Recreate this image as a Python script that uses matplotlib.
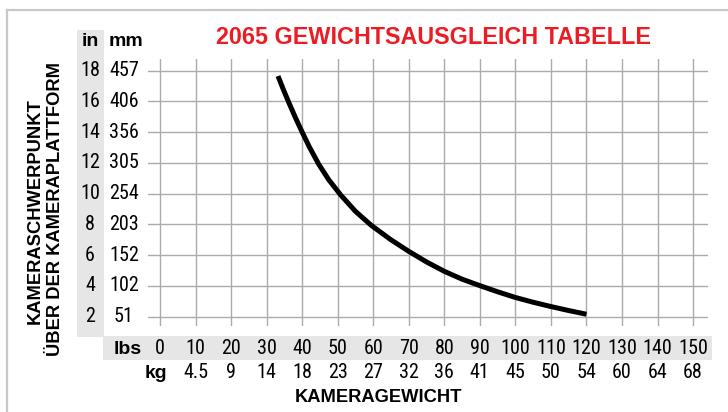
import matplotlib
matplotlib.use('Agg')
from matplotlib import pyplot as plt
from matplotlib.transforms import blended_transform_factory
from matplotlib.patches import Rectangle
from matplotlib.lines import Line2D

# curve: camera weight (lbs) vs. centre of gravity (in)
weight_lbs = [33.2, 34.7, 36.2, 38.0, 39.8, 42.0, 44.7, 47.5, 50.9, 55.0, 59.5, 65.0, 70.0, 75.0,
              80.0, 85.0, 90.0, 95.0, 100.0, 105.0, 110.0, 115.0, 120.0]
cog_in     = [17.65, 16.78, 15.95, 15.0, 14.1, 13.05, 11.9, 10.9, 9.9, 8.85, 7.93, 7.0, 6.25, 5.56,
              4.95, 4.44, 4.02, 3.62, 3.25, 2.94, 2.66, 2.4, 2.16]

# axis tick labels
lbs_ticks = [0, 10, 20, 30, 40, 50, 60, 70, 80, 90, 100, 110, 120, 130, 140, 150]
kg_labels = ['', '4.5', '9', '14', '18', '23', '27', '32', '36', '41', '45', '50', '54', '60', '64', '68']
in_ticks  = [2, 4, 6, 8, 10, 12, 14, 16, 18]
mm_labels = ['51', '102', '152', '203', '254', '305', '356', '406', '457']

W, H = 728, 412
NARROW = ['Roboto Condensed', 'Archivo Narrow', 'DejaVu Sans']
BOLD = ['Liberation Sans', 'DejaVu Sans']
BAND = '#e6e6e6'
GRID = '#ababab'
RED = '#ec1c24'

fig = plt.figure(figsize=(W / 100, H / 100), dpi=100)


def fx(x):
    return x / W


def fy(y):
    return 1 - y / H


# outer frame (left + top edges only visible)
fig.add_artist(Line2D([fx(7), fx(7)], [fy(10), 0], color='#c8c8c8', lw=1.6))
fig.add_artist(Line2D([fx(7), 1], [fy(10), fy(10)], color='#c8c8c8', lw=1.6))

# gray label bands (L shape)
fig.add_artist(Rectangle((fx(77), fy(336.5)), fx(104) - fx(77), fy(30) - fy(336.5),
                         facecolor=BAND, edgecolor='none', zorder=0))
fig.add_artist(Rectangle((fx(103), fy(360)), fx(712) - fx(103), fy(336) - fy(360),
                         facecolor=BAND, edgecolor='none', zorder=0))

ax = fig.add_axes([fx(148), fy(326), fx(708) - fx(148), fy(59.3) - fy(326)])
ax.set_facecolor('none')
ax.set_xlim(-3.38, 154.2)
ax.set_ylim(1.395, 18.74)
ax.set_xticks(lbs_ticks)
ax.set_yticks(in_ticks)
ax.grid(color=GRID, lw=1.0)
ax.tick_params(length=0, labelbottom=False, labelleft=False)
for s in ax.spines.values():
    s.set_visible(False)

ax.plot(weight_lbs, cog_in, color='black', lw=3.6, solid_capstyle='butt',
        solid_joinstyle='round', zorder=3)

# x tick label rows
tx = blended_transform_factory(ax.transData, fig.transFigure)
for v, kg in zip(lbs_ticks, kg_labels):
    fig.text(v, fy(349), str(v), transform=tx, ha='center', va='center',
             fontsize=14.5, family=NARROW)
    if kg:
        fig.text(v, fy(373), kg, transform=tx, ha='center', va='center',
                 fontsize=14.5, family=NARROW)
fig.text(fx(142), fy(349), 'lbs', ha='right', va='center', fontsize=14,
         fontweight='bold', family=BOLD)
fig.text(fx(167), fy(373), 'kg', ha='right', va='center', fontsize=14,
         fontweight='bold', family=BOLD)

# y tick label columns
ty = blended_transform_factory(fig.transFigure, ax.transData)
for v, mm in zip(in_ticks, mm_labels):
    fig.text(fx(90), v, str(v), transform=ty, ha='center', va='center',
             fontsize=14.5, family=NARROW)
    fig.text(fx(124), v, mm, transform=ty, ha='center', va='center',
             fontsize=14.5, family=NARROW)
fig.text(fx(90), fy(42), 'in', ha='center', va='center', fontsize=14,
         fontweight='bold', family=BOLD)
fig.text(fx(126), fy(42), 'mm', ha='center', va='center', fontsize=14,
         fontweight='bold', family=BOLD)

# titles
fig.text(fx(433.5), fy(37), '2065 GEWICHTSAUSGLEICH TABELLE', ha='center', va='center',
         fontsize=16.8, fontweight='bold', color=RED, family=BOLD)
fig.text(fx(378), fy(397), 'KAMERAGEWICHT', ha='center', va='center',
         fontsize=13.2, fontweight='bold', family=BOLD)
fig.text(fx(35), fy(211), 'KAMERASCHWERPUNKT', rotation=90, ha='center', va='center',
         fontsize=13.2, fontweight='bold', family=BOLD)
fig.text(fx(56), fy(209), 'ÜBER DER KAMERAPLATTFORM', rotation=90, ha='center', va='center',
         fontsize=13.2, fontweight='bold', family=BOLD)

fig.savefig('out.png', dpi=100)
